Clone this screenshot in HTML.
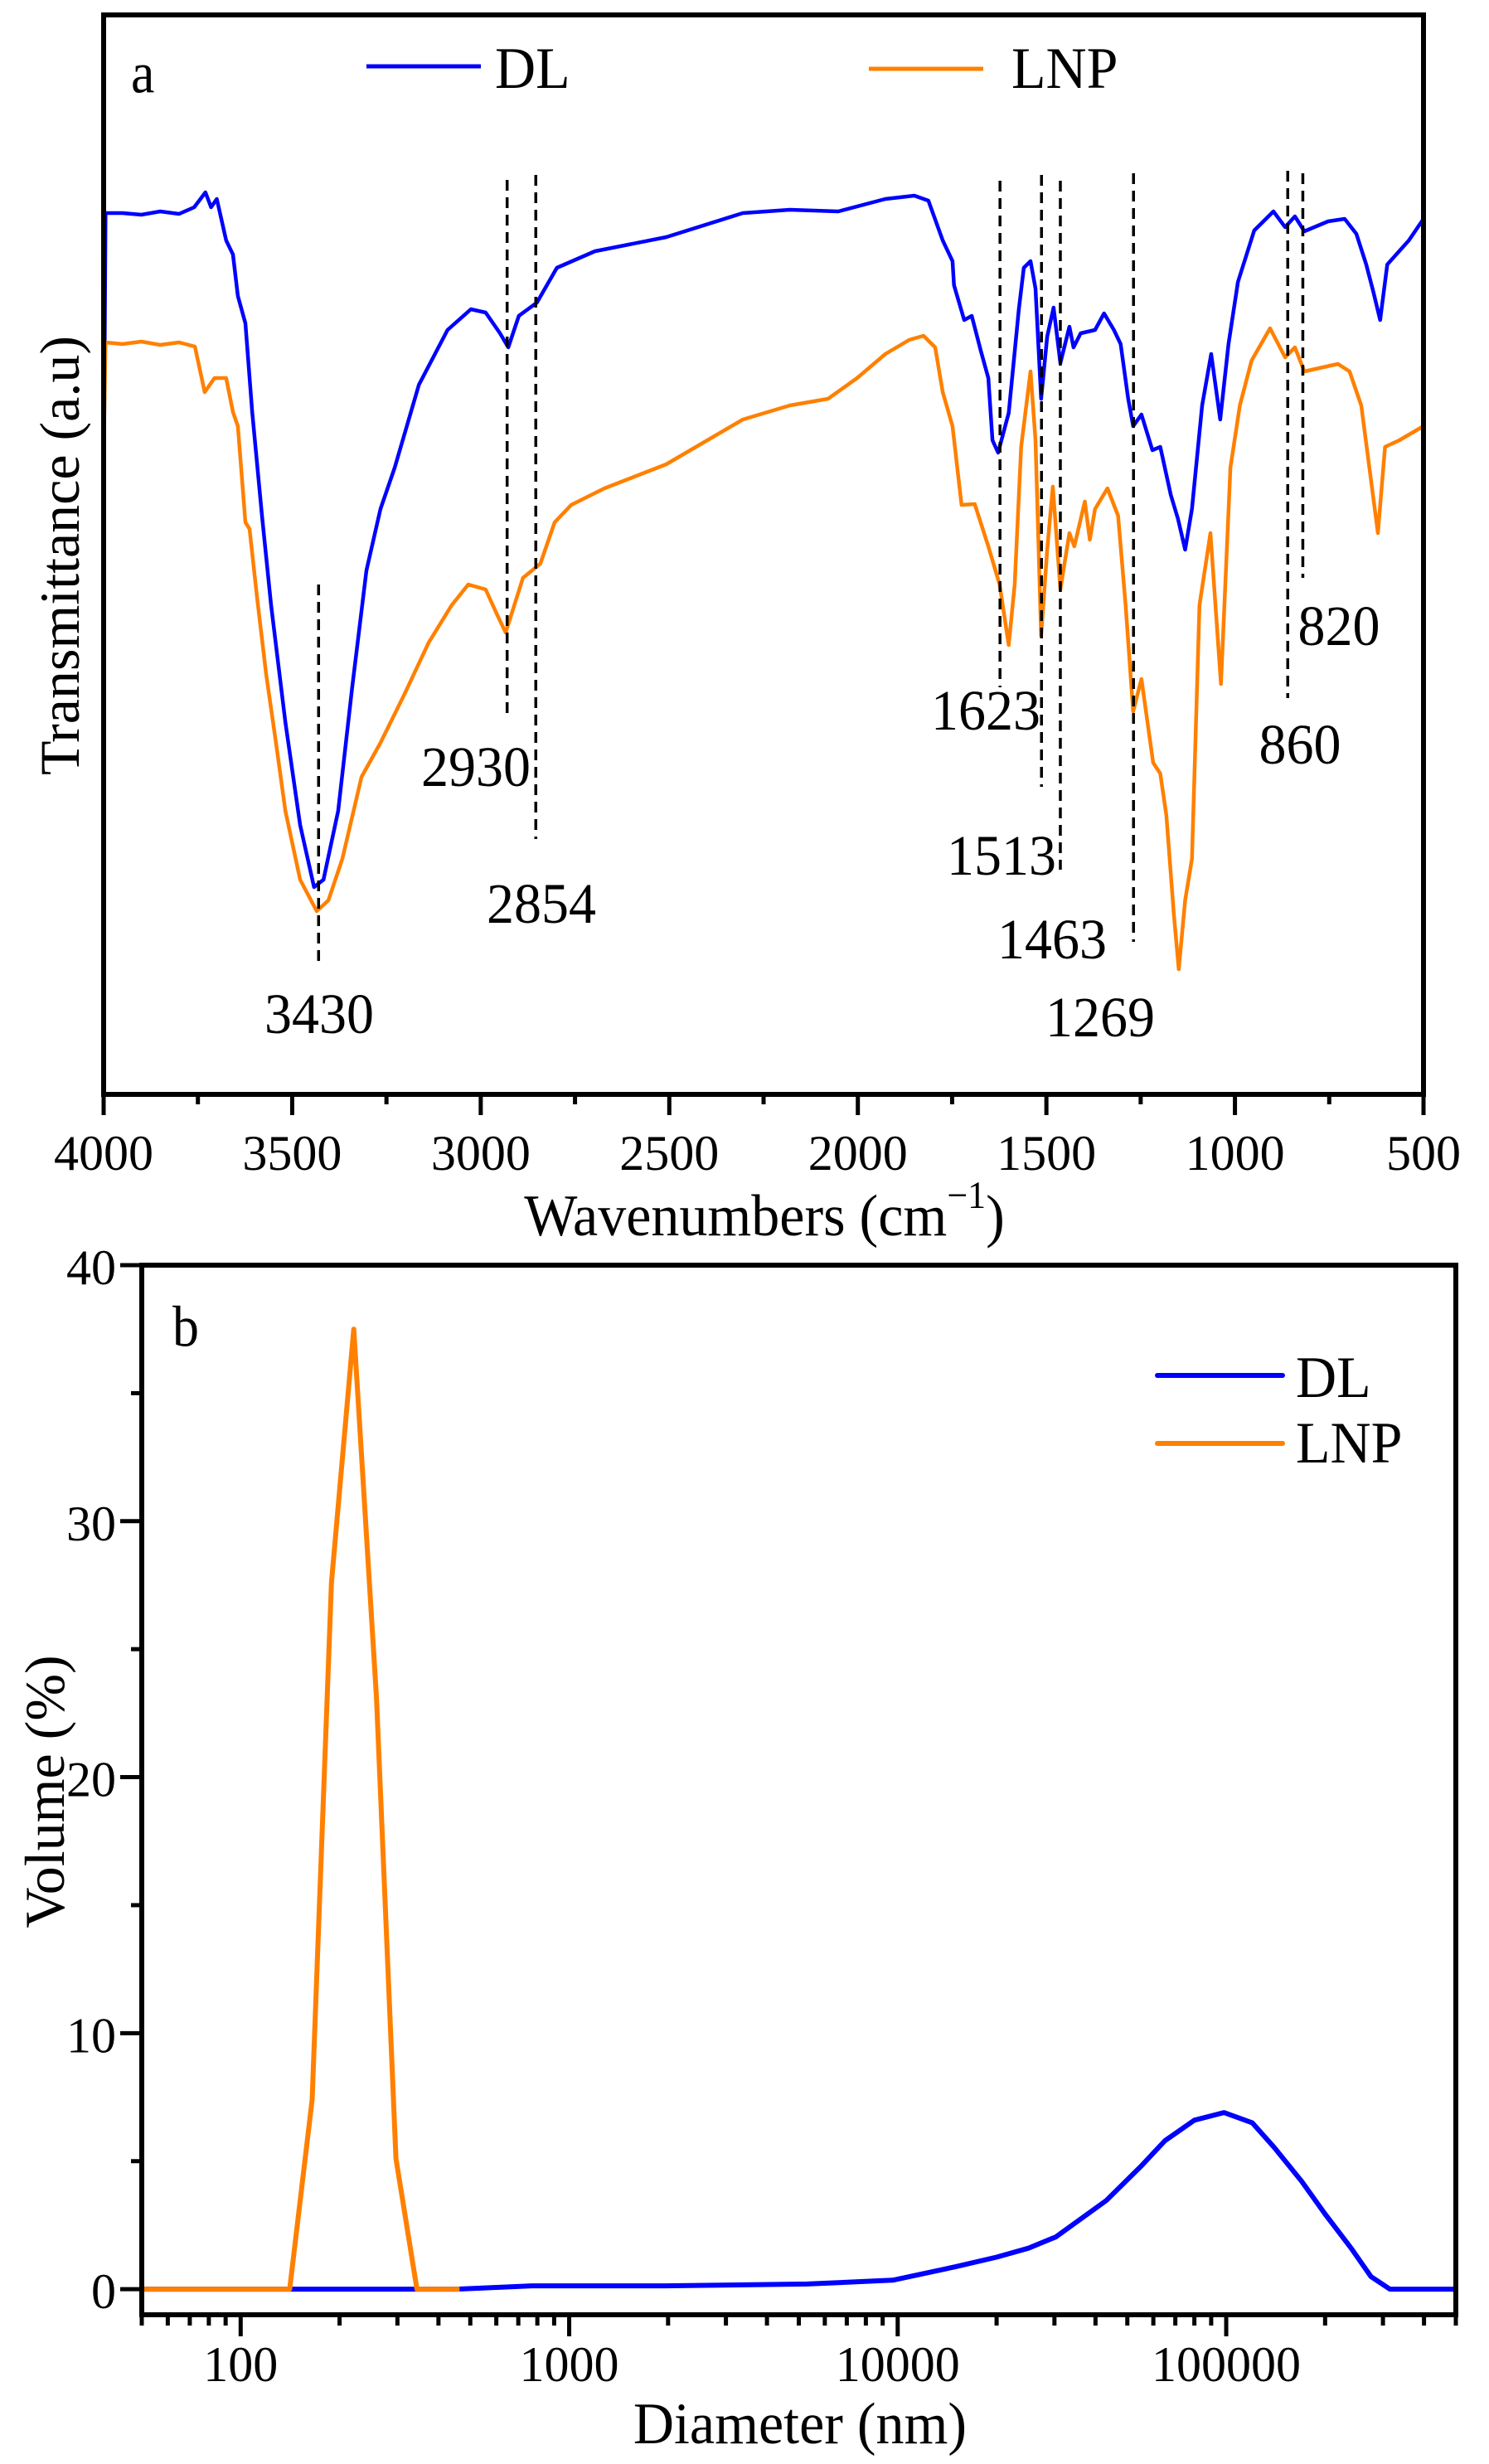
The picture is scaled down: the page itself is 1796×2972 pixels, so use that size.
<!DOCTYPE html>
<html><head><meta charset="utf-8"><style>
html,body{margin:0;padding:0;background:#fff;}
svg{display:block;font-family:"Liberation Serif","Times New Roman",serif;}
</style></head><body>
<svg id="fig" width="1796" height="2972" viewBox="0 0 1796 2972" xmlns="http://www.w3.org/2000/svg">
<rect x="0" y="0" width="1796" height="2972" fill="#fff"/>
<g id="pa"></g>
<g id="pb"></g>

<g font-size="66" fill="#000">
<text transform="translate(158,88) scale(1,1.1)" dominant-baseline="central" font-size="64">a</text>
<text transform="translate(72,670) rotate(-90)" text-anchor="middle" dominant-baseline="central" font-size="68">Transmittance (a.u)</text>
<text transform="translate(922,1467) scale(1,1.05)" text-anchor="middle" dominant-baseline="central" font-size="68">Wavenumbers (cm<tspan font-size="44" dy="-24">−1</tspan><tspan dy="24">)</tspan></text>
<text transform="translate(597,83) scale(1,1.05)" dominant-baseline="central" font-size="68">DL</text>
<text transform="translate(1220,83) scale(1,1.05)" dominant-baseline="central" font-size="68">LNP</text>
<text transform="translate(208,1600) scale(1,1.1)" dominant-baseline="central" font-size="64">b</text>
<text transform="translate(54,2161) rotate(-90)" text-anchor="middle" dominant-baseline="central" font-size="68">Volume (%)</text>
<text transform="translate(965,2924) scale(1,1.05)" text-anchor="middle" dominant-baseline="central" font-size="68">Diameter (nm)</text>
<text transform="translate(1563,1662) scale(1,1.05)" dominant-baseline="central" font-size="68">DL</text>
<text transform="translate(1563,1741) scale(1,1.05)" dominant-baseline="central" font-size="68">LNP</text>
</g>
<line x1="442" y1="80" x2="580" y2="80" stroke="#0000ff" stroke-width="5"/>
<line x1="1048" y1="83" x2="1186" y2="83" stroke="#ff8000" stroke-width="5"/>
<line x1="1396" y1="1659" x2="1547" y2="1659" stroke="#0000ff" stroke-width="6" stroke-linecap="round"/>
<line x1="1396" y1="1741" x2="1547" y2="1741" stroke="#ff8000" stroke-width="6" stroke-linecap="round"/>
</svg>
<script>
// ---------- FTIR data (panel a) ----------
const ftirDlWn = [4000,3995,3950,3900,3850,3800,3760,3730,3715,3700,3675,3657,3644,3624,3606,3580,3556,3518,3479,3442,3417,3378,3341,3303,3266,3228,3164,3088,3026,2987,2949,2927,2899,2851,2798,2697,2508,2305,2180,2052,1927,1850,1813,1775,1749,1745,1718,1698,1674,1654,1643,1628,1600,1573,1560,1542,1529,1514,1498,1481,1463,1439,1428,1409,1371,1347,1321,1303,1283,1270,1248,1219,1198,1170,1151,1132,1114,1087,1063,1039,1017,992,949,898,867,841,816,753,709,678,652,633,615,596,539,500];
const ftirDlT = [70.2,106.3,106.3,106.1,106.5,106.2,107,108.8,107,108,103,101.3,96.3,93,82.3,69.8,59,44.9,32.5,25,25.9,34.2,49.1,63.2,70.6,75.6,85.6,92.2,94.7,94.3,91.8,90.1,93.9,95.5,99.7,101.7,103.4,106.3,106.7,106.5,108,108.4,107.8,103,100.5,97.6,93.4,93.9,89.7,86.4,78.9,77.4,82.2,94.7,99.7,100.5,97.2,83.9,91.4,94.9,88.2,92.6,90.1,91.8,92.2,94.2,92.2,90.5,83.9,80.6,82,77.7,78.1,72.3,69.4,65.7,70.6,83.1,89.3,81.4,90.5,98,104.2,106.5,104.6,105.9,104.1,105.3,105.6,103.8,100.1,96.8,93.4,100.1,103,105.6];
const ftirLnpWn = [4000,3995,3950,3900,3850,3800,3758,3732,3706,3675,3657,3644,3624,3613,3593,3569,3543,3518,3479,3435,3404,3367,3316,3266,3202,3138,3077,3033,2987,2956,2934,2888,2842,2804,2760,2672,2508,2305,2180,2079,2002,1927,1864,1826,1795,1775,1749,1725,1690,1654,1624,1600,1584,1567,1542,1529,1514,1498,1483,1463,1439,1426,1398,1385,1371,1338,1310,1290,1270,1248,1217,1198,1182,1162,1149,1132,1114,1094,1065,1037,1012,987,956,907,867,841,816,727,696,665,639,621,602,564,500];
const ftirLnpT = [76.9,90.7,90.5,90.8,90.4,90.7,90.2,84.7,86.4,86.4,82.3,80.6,69,68.2,59.9,50.7,42.4,34.2,25.9,22.1,23.4,28.4,38.3,42.4,48.3,54.5,59,61.5,60.9,57.8,55.7,62.3,64,69,71.1,73.1,76,81.4,83.1,83.9,86.4,89.3,91,91.5,90.1,84.7,80.6,71.1,71.2,66.1,61.5,54.2,61.5,78.1,87.2,78.9,55.3,65.7,73.3,60.9,67.7,66.1,71.5,66.9,70.6,73.1,69.8,59,46.2,50.1,40,38.7,33.7,21.7,15.1,23.4,28.4,59,67.7,49.5,75.6,83.1,88.5,92.4,88.9,90.1,87.2,88.1,87.2,83.1,74,67.7,78.1,78.9,80.6];
const ftirTickLabels = ["4000","3500","3000","2500","2000","1500","1000","500"];
const ftirTickValues = [4000,3500,3000,2500,2000,1500,1000,500];
const peakWn = [3430,2930,2854,1623,1513,1463,1269,860,820];
const peakLabels = ["3430","2930","2854","1623","1513","1463","1269","860","820"];
// annotation layout (pixels, not data)
const peakDashTop = [705,217,211,218,211,218,209,206,209];
const peakDashBot = [1161,862,1012,829,949,1049,1136,842,697];
const peakLabelX = [385,574,653,1189,1208,1269,1327,1568,1615];
const peakLabelY = [1223,925,1090,857,1032,1133,1227,898,755];

// ---------- DLS data (panel b) ----------
const dlsLnpD = [50,141,165,189,221,259,297,344,464];
const dlsLnpV = [0,0,7.4,27.6,37.5,23.1,5.1,0,0];
const dlsDlD = [50,454,774,1960,5300,9660,14900,20000,25000,30300,43200,55000,65100,80000,98400,120000,140000,170000,199500,240000,276000,315000,500000];
const dlsDlV = [0,0,0.13,0.13,0.2,0.35,0.87,1.25,1.6,2.04,3.47,4.8,5.8,6.6,6.9,6.5,5.54,4.2,2.95,1.6,0.49,0,0];
const dlsYTicks = [0,10,20,30,40];
const dlsYTickLabels = ["0","10","20","30","40"];
const dlsXTicks = [100,1000,10000,100000];
const dlsXTickLabels = ["100","1000","10000","100000"];

const NS = "http://www.w3.org/2000/svg";
function mk(tag, attrs, parent){const e=document.createElementNS(NS,tag);for(const k in attrs)e.setAttribute(k,attrs[k]);parent.appendChild(e);return e;}

const A = {x0:125,x1:1717,y0:1320,y1:18};
const ax = wn => A.x0 + (4000-wn)/3500*(A.x1-A.x0);
const ay = t => A.y0 - t/130.2*(A.y0-A.y1);
const pa = document.getElementById('pa');
function path(xs, ys, fx, fy){return xs.map((v,i)=>(i?'L':'M')+fx(v).toFixed(1)+','+fy(ys[i]).toFixed(1)).join(' ');}

let p = mk('path',{d:path(ftirDlWn,ftirDlT,ax,ay),fill:'none',stroke:'#0000ff','stroke-width':4.5,'stroke-linejoin':'round'},pa);


p = mk('path',{d:path(ftirLnpWn,ftirLnpT,ax,ay),fill:'none',stroke:'#ff8000','stroke-width':4.5,'stroke-linejoin':'round'},pa);



peakWn.forEach((w,i)=>{
  const l = mk('line',{x1:ax(w),x2:ax(w),y1:peakDashTop[i],y2:peakDashBot[i],stroke:'#000','stroke-width':3.5,'stroke-dasharray':'13,8'},pa);
  
  
  const t = mk('text',{transform:`translate(${peakLabelX[i]},${peakLabelY[i]}) scale(1,1.05)`,'text-anchor':'middle','dominant-baseline':'central','font-size':66},pa);
  t.textContent = peakLabels[i];
  
  
});

let fr = mk('rect',{x:A.x0,y:A.y1,width:A.x1-A.x0,height:A.y0-A.y1,fill:'none',stroke:'#000','stroke-width':6},pa);


for(let w=4000; w>=500; w-=250){
  const major = (w%500===0);
  const tk = mk('line',{x1:ax(w),x2:ax(w),y1:A.y0,y2:A.y0+(major?25:12),stroke:'#000','stroke-width':5},pa);
  
  
}
ftirTickValues.forEach((w,i)=>{
  const t = mk('text',{transform:`translate(${ax(w)},1391)`,'text-anchor':'middle','dominant-baseline':'central','font-size':60},pa);
  t.textContent = ftirTickLabels[i];
  
  
});

const B = {x0:171,x1:1756,y0:2792,y1:1526};
const lmin = Math.log10(50), lmax = Math.log10(500000);
const bx = d => B.x0 + (Math.log10(d)-lmin)/(lmax-lmin)*(B.x1-B.x0);
const by = v => B.y0 - (v+1)/41*(B.y0-B.y1);
const pb = document.getElementById('pb');

p = mk('path',{d:path(dlsDlD,dlsDlV,bx,by),fill:'none',stroke:'#0000ff','stroke-width':6,'stroke-linejoin':'round'},pb);


p = mk('path',{d:path(dlsLnpD,dlsLnpV,bx,by),fill:'none',stroke:'#ff8000','stroke-width':6,'stroke-linejoin':'round'},pb);



fr = mk('rect',{x:B.x0,y:B.y1,width:B.x1-B.x0,height:B.y0-B.y1,fill:'none',stroke:'#000','stroke-width':6},pb);


for(let v=0; v<=40; v+=5){
  const major = (v%10===0);
  const tk = mk('line',{x1:B.x0,x2:B.x0-(major?26:13),y1:by(v),y2:by(v),stroke:'#000','stroke-width':5},pb);
  
  
}
dlsYTicks.forEach((v,i)=>{
  const t = mk('text',{transform:`translate(140,${by(v)+3})`,'text-anchor':'end','dominant-baseline':'central','font-size':60},pb);
  t.textContent = dlsYTickLabels[i];
  
  
});
for(let e=1; e<=5; e++){
  for(let m=1; m<=9; m++){
    const d = m*Math.pow(10,e);
    if(d<50 || d>500000) continue;
    const major = (m===1);
    const tk = mk('line',{x1:bx(d),x2:bx(d),y1:B.y0,y2:B.y0+(major?26:13),stroke:'#000','stroke-width':5},pb);
    
    
  }
}
dlsXTicks.forEach((d,i)=>{
  const t = mk('text',{transform:`translate(${bx(d)},2852)`,'text-anchor':'middle','dominant-baseline':'central','font-size':60},pb);
  t.textContent = dlsXTickLabels[i];
  
  
});
</script>
</body></html>
